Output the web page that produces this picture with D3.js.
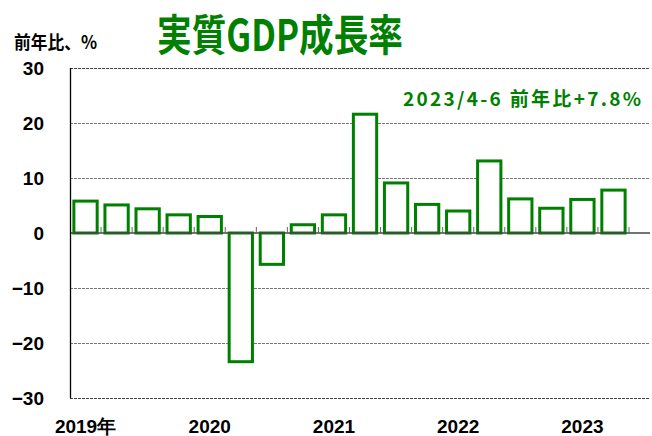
<!DOCTYPE html>
<html>
<head>
<meta charset="utf-8">
<script src="https://cdn.jsdelivr.net/npm/d3@7"></script>
<style>
  body { margin: 0; background: #fff; }
  svg { display: block; }
  text { font-family: "Liberation Sans", Arial, sans-serif; font-weight: bold; }
  .cjk { font-family: "Noto Sans CJK JP", sans-serif; }
</style>
</head>
<body>
<div id="chart"></div>
<script>
// quarterly data, 2019 Q1 .. 2023 Q2
var quarters = ["2019Q1","2019Q2","2019Q3","2019Q4","2020Q1","2020Q2","2020Q3","2020Q4",
                "2021Q1","2021Q2","2021Q3","2021Q4","2022Q1","2022Q2","2022Q3","2022Q4",
                "2023Q1","2023Q2"];
var growth = [5.8, 5.1, 4.4, 3.3, 3.0, -23.4, -5.7, 1.5,
              3.3, 21.6, 9.1, 5.2, 4.0, 13.1, 6.2, 4.5,
              6.1, 7.8];
var yTicks = [30, 20, 10, 0, -10, -20, -30];
var yearLabels = [
  { q: "2019Q1", text: "2019年" },
  { q: "2020Q1", text: "2020" },
  { q: "2021Q1", text: "2021" },
  { q: "2022Q1", text: "2022" },
  { q: "2023Q1", text: "2023" }
];

var width = 652, height = 436;
var plotLeft = 70, plotRight = 650, plotTop = 68, plotBottom = 398;

var svg = d3.select("#chart").append("svg")
  .attr("width", width)
  .attr("height", height);

var x = d3.scaleBand()
  .domain(quarters)
  .range([plotLeft, 629])
  .paddingInner(0.25)
  .paddingOuter(0.125);

var y = d3.scaleLinear()
  .domain([-30, 30])
  .range([plotBottom, plotTop]);

// gridlines
svg.append("g")
  .selectAll("line")
  .data(yTicks.filter(function(d) { return d !== 0; }))
  .enter().append("line")
  .attr("x1", plotLeft)
  .attr("x2", plotRight)
  .attr("y1", function(d) { return Math.round(y(d)) + 0.5; })
  .attr("y2", function(d) { return Math.round(y(d)) + 0.5; })
  .attr("stroke", function(d) { return d === -30 || d === 30 ? "#444" : "#777"; })
  .attr("stroke-width", 1)
  .attr("stroke-dasharray", "3,1");

// y tick labels
svg.append("g")
  .selectAll("text")
  .data(yTicks)
  .enter().append("text")
  .attr("x", 44)
  .attr("y", function(d) { return y(d); })
  .attr("dy", "0.36em")
  .attr("text-anchor", "end")
  .attr("font-size", 19)
  .attr("fill", "#000")
  .text(function(d) { return d < 0 ? "\u2212" + Math.abs(d) : d; });

// bars
svg.append("g")
  .selectAll("rect")
  .data(growth)
  .enter().append("rect")
  .attr("x", function(d, i) { return x(quarters[i]); })
  .attr("width", x.bandwidth())
  .attr("y", function(d) { return y(Math.max(0, d)); })
  .attr("height", function(d) { return Math.abs(y(d) - y(0)); })
  .attr("fill", "#fff")
  .attr("stroke", "#008000")
  .attr("stroke-width", 3);

// zero line with quarter ticks
svg.append("line")
  .attr("x1", plotLeft).attr("x2", plotRight)
  .attr("y1", y(0)).attr("y2", y(0))
  .attr("stroke", "#444")
  .attr("stroke-width", 1.3);

var step = x.step();
svg.append("g")
  .selectAll("line")
  .data(quarters)
  .enter().append("line")
  .attr("x1", function(d) { return x(d) - step * 0.125 + step; })
  .attr("x2", function(d) { return x(d) - step * 0.125 + step; })
  .attr("y1", y(0) - 6)
  .attr("y2", y(0))
  .attr("stroke", "#666")
  .attr("stroke-width", 1);

// left axis
svg.append("line")
  .attr("x1", plotLeft + 0.5).attr("x2", plotLeft + 0.5)
  .attr("y1", plotTop).attr("y2", plotBottom)
  .attr("stroke", "#000")
  .attr("stroke-width", 1.3);

// year labels
svg.append("g")
  .selectAll("text")
  .data(yearLabels)
  .enter().append("text")
  .attr("x", function(d) { return x(d.q) + x.bandwidth() / 2; })
  .attr("y", 433)
  .attr("text-anchor", "middle")
  .attr("font-size", 19)
  .attr("fill", "#000")
  .text(function(d) { return d.text; });

// title
svg.append("text")
  .attr("class", "cjk")
  .attr("x", 280)
  .attr("y", 51)
  .attr("text-anchor", "middle")
  .attr("font-size", 43)
  .attr("textLength", 246)
  .attr("lengthAdjust", "spacingAndGlyphs")
  .attr("fill", "#008000")
  .text("実質GDP成長率");

// y axis title
svg.append("text")
  .attr("class", "cjk")
  .attr("x", 14)
  .attr("y", 49)
  .attr("font-size", 18)
  .attr("textLength", 83)
  .attr("lengthAdjust", "spacingAndGlyphs")
  .attr("fill", "#000")
  .text("前年比、%");

// annotation for the latest quarter
svg.append("text")
  .attr("class", "cjk")
  .attr("x", 403)
  .attr("y", 106)
  .attr("font-size", 19)
  .attr("textLength", 238)
  .attr("lengthAdjust", "spacing")
  .attr("fill", "#008000")
  .text("2023/4-6  前年比+" + growth[growth.length - 1] + "%");
</script>
</body>
</html>
